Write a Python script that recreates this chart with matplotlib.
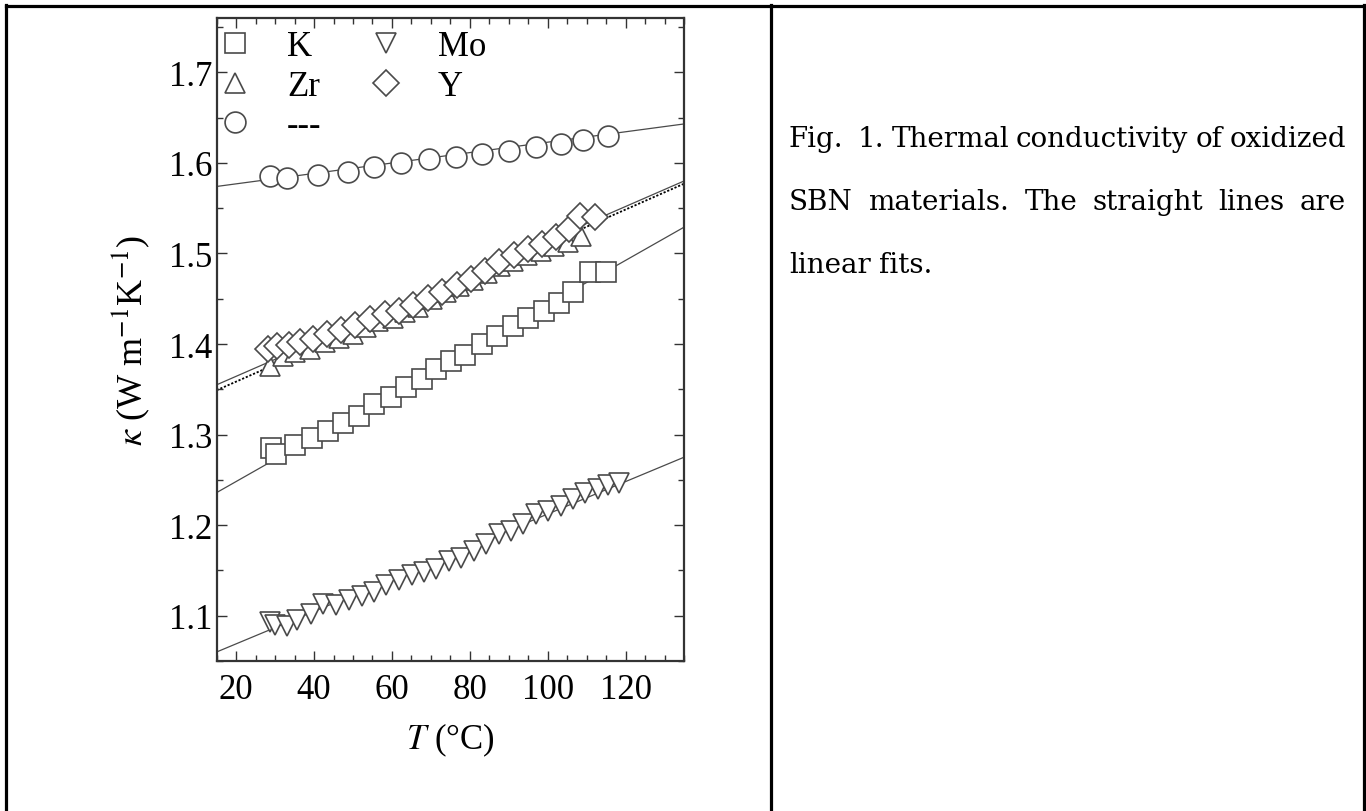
import numpy as np
import matplotlib.pyplot as plt
from matplotlib.lines import Line2D
from matplotlib.ticker import MultipleLocator

plt.rcParams['font.family'] = 'Liberation Serif'
plt.rcParams['mathtext.fontset'] = 'stix'

# values
T_circ = [28.8, 33.1, 41.1, 48.6, 55.5, 62.4, 69.5, 76.4, 83.1, 90.0, 96.9, 103.3, 109.1, 115.5]
k_circ = [1.586, 1.583, 1.587, 1.590, 1.596, 1.600, 1.604, 1.607, 1.610, 1.613, 1.618, 1.621, 1.625, 1.630]

T_K = [29.0, 30.2, 35.0, 39.5, 43.5, 47.4, 51.5, 55.4, 59.7, 63.7, 67.7, 71.4, 75.1, 78.8,
       83.1, 87.1, 91.1, 95.0, 99.0, 102.8, 106.5, 110.8, 115.0]
k_K = [1.285, 1.279, 1.289, 1.296, 1.304, 1.313, 1.321, 1.334, 1.342, 1.352, 1.361, 1.372, 1.381, 1.388,
       1.400, 1.409, 1.420, 1.429, 1.436, 1.445, 1.458, 1.480, 1.480]

T_Zr = [28.8, 32.0, 35.2, 38.9, 42.7, 46.4, 49.9, 53.3, 56.5, 60.2, 63.4, 66.6, 70.3, 74.0,
        77.2, 80.8, 84.3, 87.8, 91.2, 94.7, 98.2, 101.6, 105.1, 108.5]
k_Zr = [1.376, 1.387, 1.391, 1.394, 1.402, 1.407, 1.411, 1.419, 1.425, 1.429, 1.435, 1.441, 1.450, 1.457,
        1.464, 1.471, 1.478, 1.486, 1.492, 1.498, 1.503, 1.508, 1.513, 1.519]

T_Y = [28.3, 30.5, 33.5, 36.5, 39.8, 43.3, 46.9, 50.6, 54.4, 58.1, 61.8, 65.5, 69.2, 72.9,
       76.6, 80.3, 84.0, 87.6, 91.3, 95.0, 98.6, 102.2, 105.5, 108.3, 112.2]
k_Y = [1.395, 1.398, 1.399, 1.402, 1.406, 1.411, 1.415, 1.421, 1.428, 1.433, 1.437, 1.443, 1.451, 1.458,
       1.465, 1.472, 1.481, 1.491, 1.498, 1.505, 1.511, 1.518, 1.527, 1.541, 1.540]

T_Mo = [28.8, 29.9, 33.1, 35.7, 39.3, 42.4, 45.6, 49.0, 52.2, 55.4, 58.6, 61.8, 65.2, 68.2, 71.4,
        74.6, 77.8, 81.0, 84.1, 87.6, 90.5, 93.7, 96.9, 100.1, 103.3, 106.5, 109.7, 112.9, 115.5, 118.2]
k_Mo = [1.093, 1.090, 1.089, 1.095, 1.102, 1.113, 1.112, 1.117, 1.122, 1.126, 1.134, 1.139, 1.145, 1.148, 1.152,
        1.160, 1.164, 1.172, 1.179, 1.190, 1.194, 1.201, 1.212, 1.216, 1.221, 1.229, 1.236, 1.240, 1.244, 1.246]

# linear fit lines, ends at the axis limits
fit_T = [15, 135]
fit_circ = [1.574, 1.643]
fit_K = [1.236, 1.529]
fit_Zr = [1.355, 1.580]
fit_Y = [1.349, 1.577]
fit_Mo = [1.060, 1.275]

caption = [["Fig.", "1.", "Thermal", "conductivity", "of", "oxidized"],
           ["SBN", "materials.", "The", "straight", "lines", "are"],
           ["linear", "fits."]]

W, H = 1366, 812
fig = plt.figure(figsize=(W / 100, H / 100), dpi=100)
ax = fig.add_axes([216.7 / W, 1 - 662 / H, (684 - 216.7) / W, (662 - 19) / H])

gray = '#4a4a4a'
ax.plot(fit_T, fit_circ, color=gray, lw=0.9, zorder=1)
ax.plot(fit_T, fit_K, color=gray, lw=0.9, zorder=1)
ax.plot(fit_T, fit_Zr, color=gray, lw=0.9, zorder=1)
ax.plot(fit_T, fit_Y, color='black', lw=1.3, ls=(0, (1.2, 1.0)), zorder=1)
ax.plot(fit_T, fit_Mo, color=gray, lw=0.9, zorder=1)

mk = dict(ls='none', ms=15, mfc='white', mec=gray, mew=1.2, zorder=3)
hK, = ax.plot(T_K, k_K, marker='s', label='K', **mk)
hZr, = ax.plot(T_Zr, k_Zr, marker='^', label='Zr', **mk)
hY, = ax.plot(T_Y, k_Y, marker='D', label='Y', **dict(mk, ms=13))
hc, = ax.plot(T_circ, k_circ, marker='o', label='---', **mk)
hMo, = ax.plot(T_Mo, k_Mo, marker='v', label='Mo', **mk)

ax.set_xlim(15, 135)
ax.set_ylim(1.05, 1.76)
ax.xaxis.set_major_locator(MultipleLocator(20))
ax.xaxis.set_minor_locator(MultipleLocator(5))
ax.yaxis.set_major_locator(MultipleLocator(0.1))
ax.yaxis.set_minor_locator(MultipleLocator(0.05))
ax.tick_params(which='both', direction='in', top=True, right=True, width=1.0, color='#333333')
ax.tick_params(which='major', length=7, labelsize=25)
ax.tick_params(which='minor', length=4)
ax.tick_params(axis='x', pad=9)
ax.tick_params(axis='y', pad=3)
for s in ax.spines.values():
    s.set_linewidth(1.6)
    s.set_color('#333333')

ax.set_xlabel(r'$T$ (°C)', fontsize=25, labelpad=10)
ax.set_ylabel(r'$\kappa$ (W m$^{-1}$K$^{-1}$)', fontsize=26, labelpad=12)

ax.legend(handles=[hK, hZr, hc, hMo, hY], ncol=2, loc='upper left', bbox_to_anchor=(-0.017, 1),
          frameon=False, fontsize=25, handlelength=0.8, handletextpad=1.1,
          columnspacing=1.44, labelspacing=0.18, borderaxespad=0, borderpad=0.36)

# table borders around the figure and the caption
def vline(x, y0, y1):
    fig.add_artist(Line2D([x / W, x / W], [1 - y0 / H, 1 - y1 / H], color='black', lw=2.3))
fig.add_artist(Line2D([6 / W, 1364 / W], [1 - 7 / H, 1 - 7 / H], color='black', lw=2.3))
vline(6, 6, 815)
vline(771, 6, 815)
vline(1364, 6, 815)

# justified caption on the right
renderer = fig.canvas.get_renderer()
x_left, x_right = 789, 1346
baselines = [147, 210, 273]
for words, yb in zip(caption, baselines):
    texts = [fig.text(0, 1 - yb / H, w, fontsize=20, family='DejaVu Serif', va='baseline') for w in words]
    widths = [t.get_window_extent(renderer).width for t in texts]
    if words[-1] == 'fits.':
        gaps = [8] * (len(words) - 1)
    else:
        weights = [2 if w == 'Fig.' else 1 for w in words[:-1]]
        free = (x_right - x_left) - sum(widths)
        gaps = [free * wt / sum(weights) for wt in weights]
    x = x_left
    for t, wd, i in zip(texts, widths, range(len(texts))):
        t.set_x(x / W)
        x += wd + (gaps[i] if i < len(gaps) else 0)

fig.savefig('out.png', dpi=100)
